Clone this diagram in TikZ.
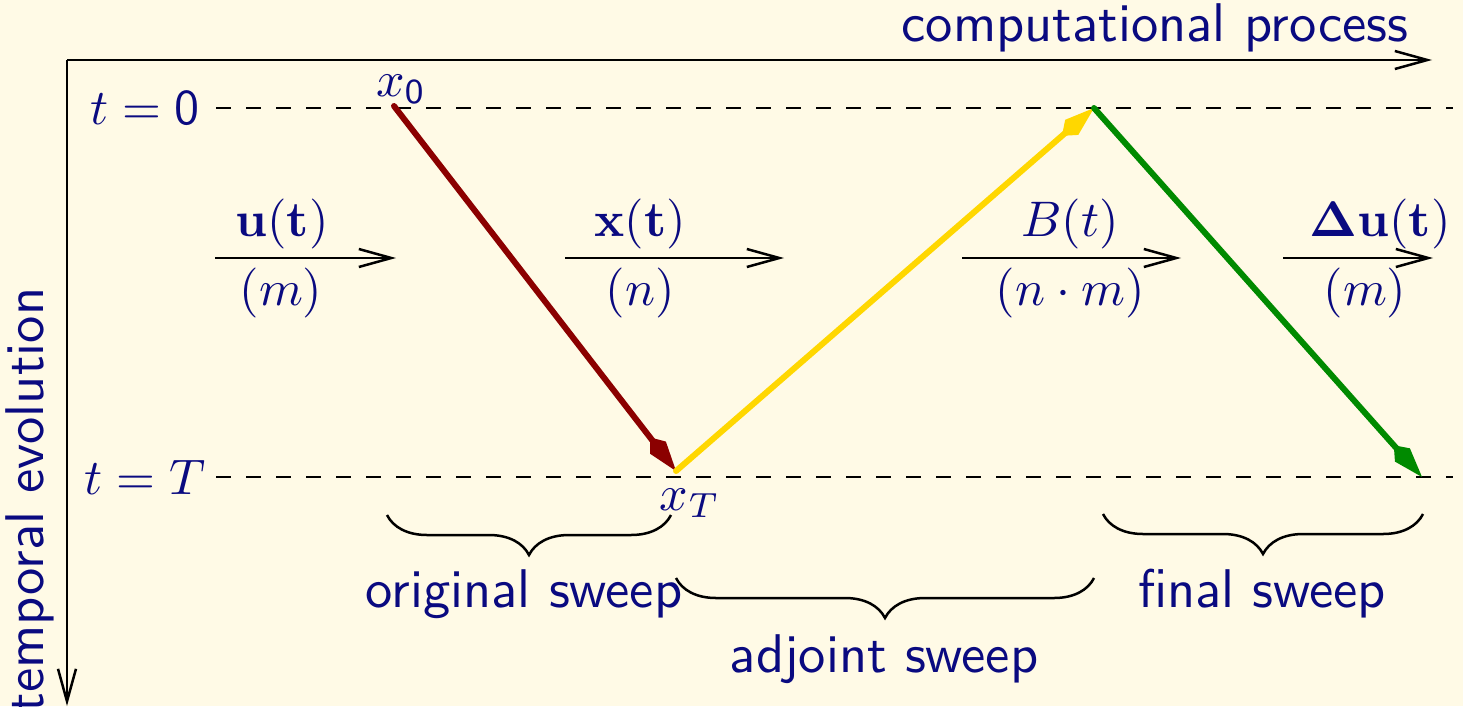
\documentclass[tikz,border=0pt]{standalone}
\usetikzlibrary{arrows.meta,decorations.pathreplacing}
\definecolor{bgc}{RGB}{255,250,230}
\definecolor{txt}{RGB}{10,10,128}
\definecolor{redc}{RGB}{139,0,0}
\definecolor{yelc}{RGB}{255,215,0}
\definecolor{grnc}{RGB}{0,138,0}
\begin{document}
\begin{tikzpicture}[x=0.2pt,y=-0.2pt,
  font=\fontsize{10.9}{13}\selectfont\sffamily,
  every node/.style={text=txt, inner sep=0pt},
  mathlbl/.style={font=\fontsize{10}{12}\selectfont},
  axis/.style={line width=0.5pt, -{Straight Barb[length=6.5pt,width=3.6pt]}},
  dimarrow/.style={line width=0.5pt, -{Straight Barb[length=6.5pt,width=3.6pt]}},
  sweeparrow/.style={line width=1.2pt, line cap=round, -{Kite[length=8.5pt,width=4pt,inset=2.6pt]}},
  bracestyle/.style={decorate, decoration={brace,mirror,amplitude=8pt}, line width=0.5pt},
  guide/.style={dashed, line width=0.5pt}]
\fill[bgc] (0,0) rectangle (1463,706);
\useasboundingbox (0,0) rectangle (1463,706);

% axes
\coordinate (O) at (67,60);
\coordinate (AX) at (1432,60);
\coordinate (AY) at (67,706);
\draw[axis] (O) -- (AX);
\draw[axis] (O) -- (AY);
\node (cp) at (1155,28) {computational process};
\node[rotate=90] (te) at (30,500) {temporal evolution};

% time levels
\node[mathlbl] (t0) at (145,108) {$t=\mathsf{0}$};
\node[mathlbl] (tT) at (145,477) {$t=T$};
\coordinate (t0s) at (216,108);
\coordinate (tTs) at (216,477);
\coordinate (t0e) at (1453,108);
\coordinate (tTe) at (1453,477);
\draw[guide] (t0s) -- (t0e);
\draw[guide] (tTs) -- (tTe);

% sweep points
\coordinate (A) at (394,106);
\coordinate (B) at (676,471);
\coordinate (C) at (1094,108);
\coordinate (D) at (1422,477);
\node[mathlbl] (x0) at (401,89) {$x_{\mathsf{0}}$};
\node[mathlbl] (xT) at (690,503) {$x_T$};

\draw[sweeparrow, redc] (A) -- (B);
\draw[sweeparrow, yelc] (B) -- (C);
\draw[sweeparrow, grnc] (C) -- (D);

% dimension arrows
\coordinate (u1) at (215,258); \coordinate (u2) at (396,258);
\coordinate (x1) at (565,258); \coordinate (x2) at (784,258);
\coordinate (b1) at (962,258); \coordinate (b2) at (1181,258);
\coordinate (d1) at (1283,258); \coordinate (d2) at (1433,258);
\draw[dimarrow] (u1) -- (u2);
\draw[dimarrow] (x1) -- (x2);
\draw[dimarrow] (b1) -- (b2);
\draw[dimarrow] (d1) -- (d2);
\node[mathlbl] (ul) at (282,224) {$\mathbf{u(t)}$};
\node[mathlbl] (um) at (281,293) {$(m)$};
\node[mathlbl] (xl) at (640,224) {$\mathbf{x(t)}$};
\node[mathlbl] (xn) at (640,293) {$(n)$};
\node[mathlbl] (bl) at (1070,224) {$B(t)$};
\node[mathlbl] (bn) at (1070,293) {$(n\cdot m)$};
\node[mathlbl] (dl) at (1380,224) {$\mathbf{\Delta u(t)}$};
\node[mathlbl] (dm) at (1365,293) {$(m)$};

% braces
\coordinate (o1) at (387,515); \coordinate (o2) at (671,515);
\coordinate (a1) at (676,578); \coordinate (a2) at (1094,578);
\coordinate (f1) at (1103,514); \coordinate (f2) at (1423,514);
\draw[bracestyle] (o1) -- (o2);
\draw[bracestyle] (a1) -- (a2);
\draw[bracestyle] (f1) -- (f2);
\node (os) at (524,594) {original sweep};
\node (as) at (884,659) {adjoint sweep};
\node (fs) at (1262,594) {final sweep};
\end{tikzpicture}
\end{document}
